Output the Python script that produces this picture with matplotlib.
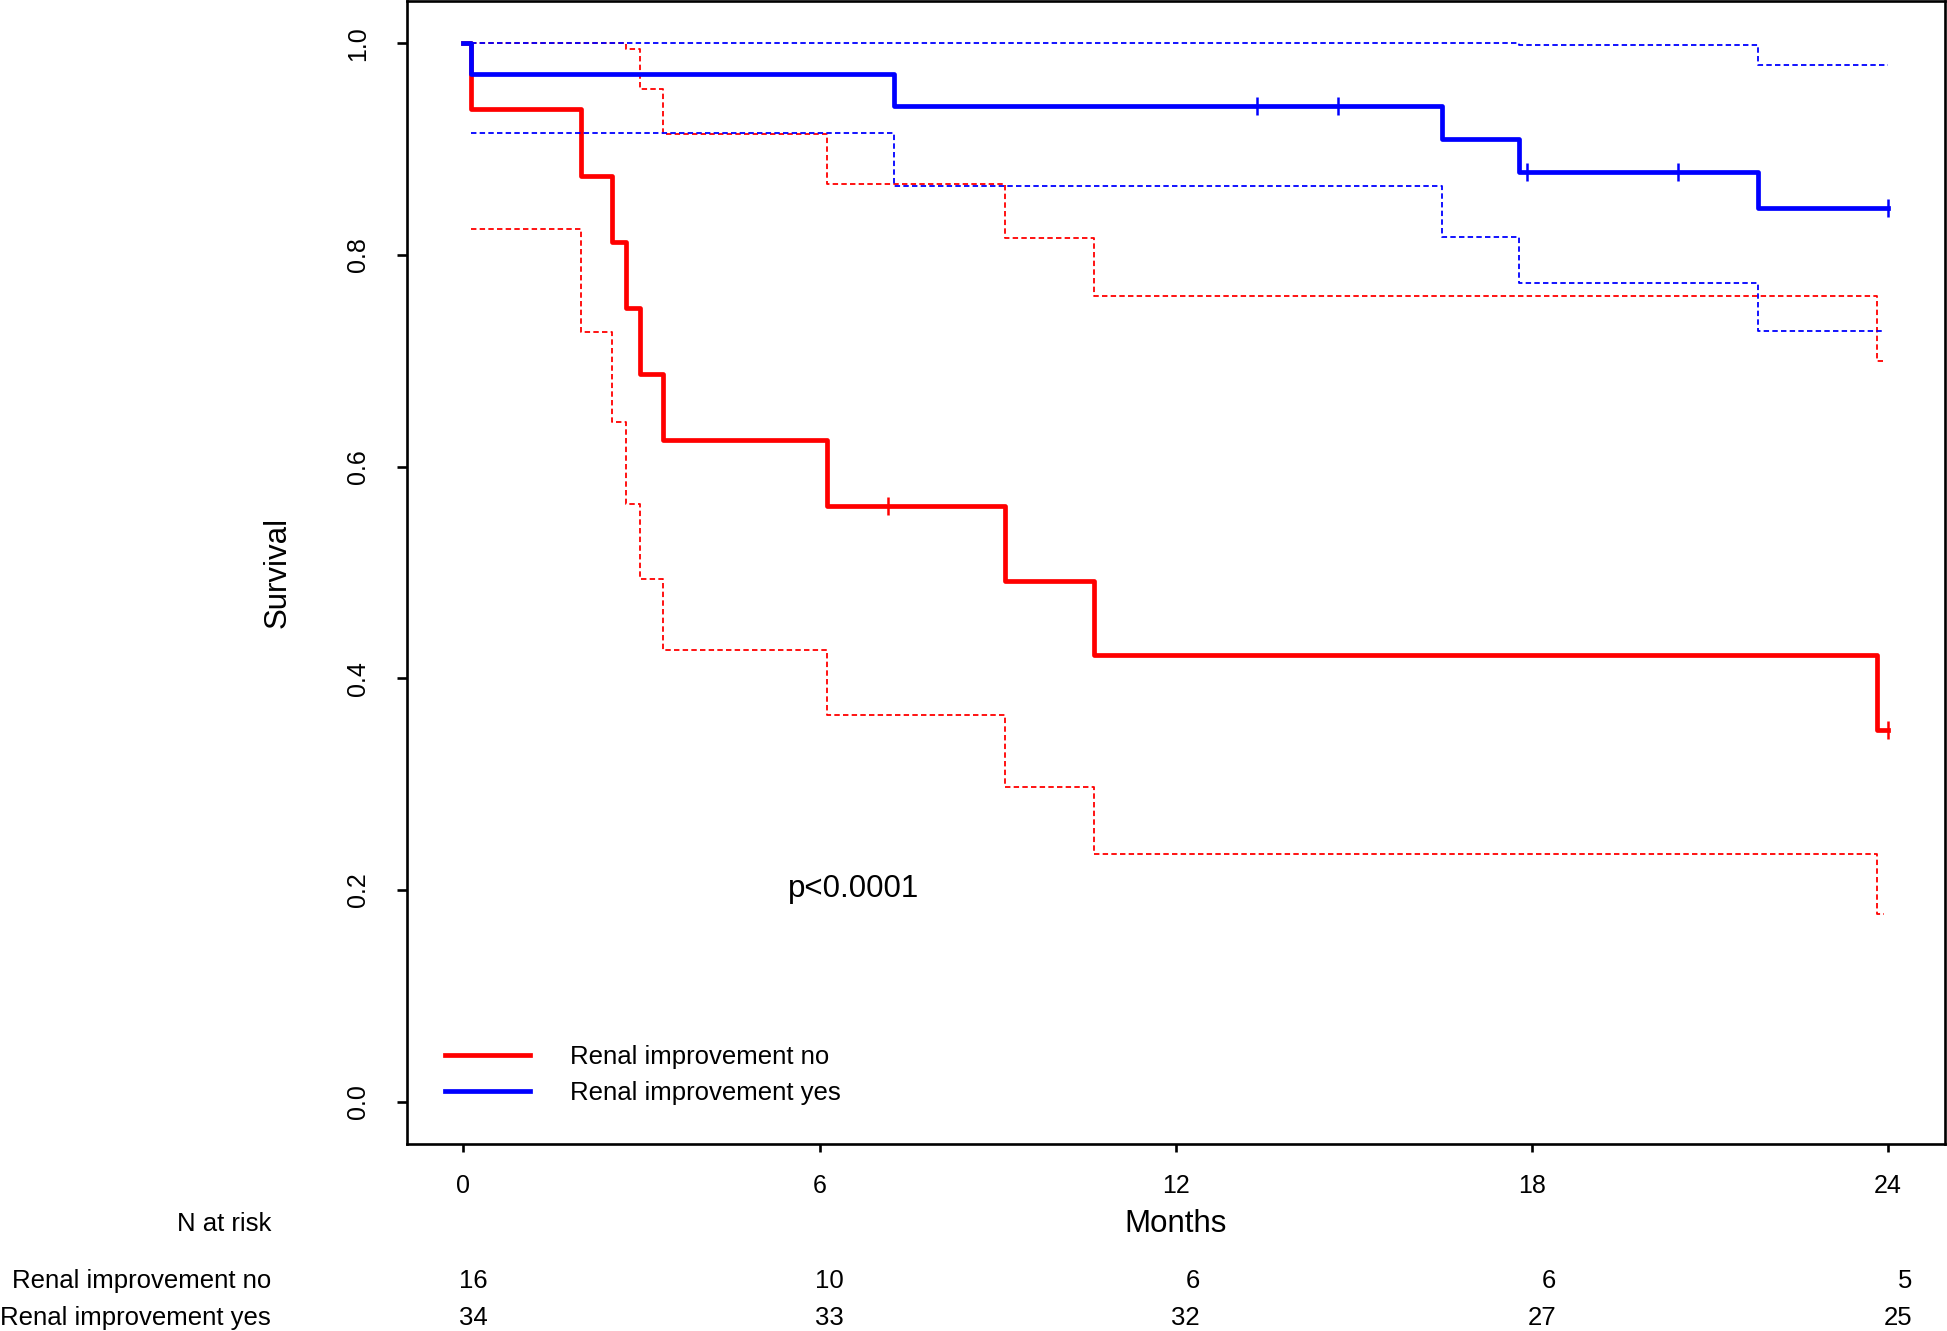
import matplotlib
matplotlib.use("Agg")
import matplotlib.pyplot as plt
import matplotlib.transforms as mtransforms
import numpy as np

plt.rcParams['font.family'] = ['Liberation Sans', 'DejaVu Sans']

# Kaplan-Meier estimates (months, survival)
t_no = [0, 0.125, 1.98, 2.51, 2.74, 2.97, 3.36, 6.12, 9.12, 10.63, 23.81, 24.0]
s_no = [1.0, 0.9375, 0.875, 0.8125, 0.75, 0.6875, 0.625, 0.5625, 0.4922, 0.4219, 0.3516, 0.3516]
cens_no = [7.15, 24.0]

t_no_up = [0.125, 2.74, 2.97, 3.36, 6.12, 9.12, 10.63, 23.81, 23.92]
up_no = [1.0, 0.995, 0.957, 0.914, 0.867, 0.816, 0.761, 0.700, 0.700]
t_no_lo = [0.125, 1.98, 2.51, 2.74, 2.97, 3.36, 6.12, 9.12, 10.63, 23.81, 23.93]
lo_no = [0.825, 0.727, 0.642, 0.565, 0.494, 0.427, 0.365, 0.297, 0.234, 0.177, 0.177]

t_yes = [0, 0.125, 7.25, 16.49, 17.79, 21.81, 24.0]
s_yes = [1.0, 0.9706, 0.9412, 0.9098, 0.8784, 0.8446, 0.8446]
cens_yes = [13.37, 14.74, 17.92, 20.47, 24.0]

t_yes_up = [0.125, 17.79, 21.81, 24.0]
up_yes = [1.0, 0.998, 0.980, 0.980]
t_yes_lo = [0.125, 7.25, 16.49, 17.79, 21.81, 23.95]
lo_yes = [0.915, 0.865, 0.817, 0.7735, 0.728, 0.728]

risk_times = [0, 6, 12, 18, 24]
risk_no = [16, 10, 6, 6, 5]
risk_yes = [34, 33, 32, 27, 25]

labels = ['Renal improvement no', 'Renal improvement yes']
colors = ['#ff0000', '#0000ff']


def step_at(t, s, x):
    idx = np.searchsorted(np.asarray(t), np.asarray(x), side='right') - 1
    return np.asarray(s)[idx]


fig = plt.figure(figsize=(19.47, 13.31), dpi=100)
W, H = 1947, 1331
ax = fig.add_axes([406.5 / W, 1 - 1144 / H, (1945 - 406.5) / W, (1144 - 1) / H])

dash = (0, (3.0, 1.8))
groups = [
    (t_no, s_no, cens_no, t_no_up, up_no, t_no_lo, lo_no),
    (t_yes, s_yes, cens_yes, t_yes_up, up_yes, t_yes_lo, lo_yes),
]
handles = []
for (t, s, cens, tu, u, tl, l), col, lab in zip(groups, colors, labels):
    h, = ax.step(t, s, where='post', color=col, lw=3.4, label=lab)
    handles.append(h)
    ax.step(tu, u, where='post', color=col, lw=1.3, linestyle=dash)
    ax.step(tl, l, where='post', color=col, lw=1.3, linestyle=dash)
    ax.plot(cens, step_at(t, s, cens), linestyle='none', marker='|',
            markersize=13, markeredgewidth=1.8, color=col)

ax.set_xlim(-0.96, 24.96)
ax.set_ylim(-0.04, 1.04)
ax.set_xticks(risk_times)
ax.set_xticklabels([str(v) for v in risk_times], fontsize=18)
ax.set_yticks([0.0, 0.2, 0.4, 0.6, 0.8, 1.0])
ax.set_yticklabels(['0.0', '0.2', '0.4', '0.6', '0.8', '1.0'], rotation=90,
                   va='center', fontsize=18)
ax.tick_params(axis='x', length=6, width=1.9, pad=15.5)
ax.tick_params(axis='y', length=7, width=1.9, pad=19.5)
for sp in ax.spines.values():
    sp.set_linewidth(1.9)

ax.text(6.57, 0.193, 'p<0.0001', fontsize=22.5, ha='center', va='baseline')

ax.legend(handles=handles, loc='upper left', bbox_to_anchor=(445 / W, 1 - 1045 / H),
          bbox_transform=fig.transFigure, frameon=False, fontsize=18.5,
          handlelength=3.3, handletextpad=1.56, labelspacing=0.46,
          borderpad=0, borderaxespad=0)

fig.text(278 / W, 0.5 * ((1 - 1144 / H) + (1 - 1 / H)), 'Survival',
         rotation=90, ha='center', va='center', fontsize=22.5)
fig.text(1176 / W, 1 - 1232 / H, 'Months', ha='center', va='baseline', fontsize=22.5)

# number at risk table
fig.text(271 / W, 1 - 1231 / H, 'N at risk', ha='right', va='baseline', fontsize=18.5)
blend = mtransforms.blended_transform_factory(ax.transData, fig.transFigure)
for row, (lab, counts) in enumerate(zip(labels, [risk_no, risk_yes])):
    yb = 1 - [1288, 1325][row] / H
    fig.text(271 / W, yb, lab, ha='right', va='baseline', fontsize=18.5)
    for tt, n in zip(risk_times, counts):
        ax.text(tt + 0.41, yb, str(n), transform=blend, ha='right', va='baseline',
                fontsize=18.5, clip_on=False)

fig.savefig('out.png', dpi=100)
